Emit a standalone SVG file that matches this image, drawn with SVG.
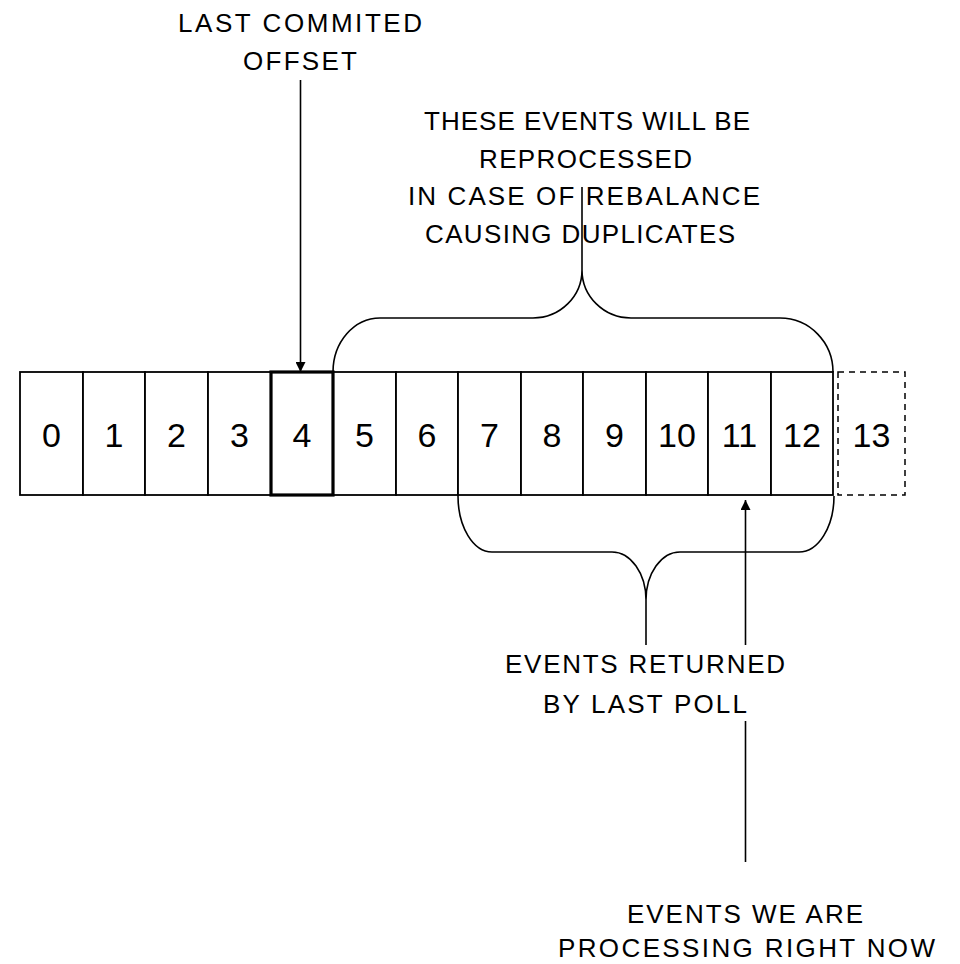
<svg xmlns="http://www.w3.org/2000/svg" width="960" height="964" viewBox="0 0 960 964">
  <defs>
    <style>
      .cell { fill: #ffffff; stroke: #000000; stroke-width: 1.8; }
      .thick { fill: #ffffff; stroke: #000000; stroke-width: 3.2; }
      .dash { fill: #ffffff; stroke: #000000; stroke-width: 1.5; stroke-dasharray: 6 5; }
      .num { font-family: "Liberation Sans", Arial, sans-serif; font-size: 34px; fill: #000; text-anchor: middle; }
      .lbl { font-family: "Liberation Sans", Arial, sans-serif; font-size: 26px; fill: #000; text-anchor: middle; }
      .ln { fill: none; stroke: #000; stroke-width: 1.6; }
    </style>
    <marker id="ah" viewBox="0 0 10 10" refX="10" refY="5" markerWidth="14" markerHeight="10" markerUnits="userSpaceOnUse" orient="auto">
      <path d="M0,0 L10,5 L0,10 Z" fill="#000"/>
    </marker>
  </defs>
  <rect width="960" height="964" fill="#ffffff"/>

  <g id="connectors">
    <path id="brace-top" class="ln" d="M333,372 A47,54 0 0 1 380,318 L533,318 A49,48 0 0 0 582,270 A49,48 0 0 0 631,318 L780,318 A53,54 0 0 1 833,372"/>
    <line class="ln" x1="582" y1="270" x2="582" y2="187"/>
    <path id="brace-bottom" class="ln" d="M458,496 A34,56 0 0 0 492,552 L612,552 A34,48 0 0 1 646,600 A34,48 0 0 1 680,552 L799,552 A35,56 0 0 0 834,496"/>
    <line class="ln" x1="646" y1="600" x2="646" y2="648"/>
    <line id="arrow-offset" class="ln" x1="300.5" y1="80" x2="300.5" y2="372" marker-end="url(#ah)"/>
    <line id="arrow-now" class="ln" x1="745.5" y1="862" x2="745.5" y2="500" marker-end="url(#ah)"/>
  </g>

  <g id="cell-0"><rect class="cell" x="20" y="372" width="63" height="123"/><text class="num" x="51.5" y="447">0</text></g>
  <g id="cell-1"><rect class="cell" x="83" y="372" width="62" height="123"/><text class="num" x="114" y="447">1</text></g>
  <g id="cell-2"><rect class="cell" x="145" y="372" width="63" height="123"/><text class="num" x="176.5" y="447">2</text></g>
  <g id="cell-3"><rect class="cell" x="208" y="372" width="63" height="123"/><text class="num" x="239.5" y="447">3</text></g>
  <g id="cell-5"><rect class="cell" x="333" y="372" width="63" height="123"/><text class="num" x="364.5" y="447">5</text></g>
  <g id="cell-6"><rect class="cell" x="396" y="372" width="62" height="123"/><text class="num" x="427" y="447">6</text></g>
  <g id="cell-7"><rect class="cell" x="458" y="372" width="63" height="123"/><text class="num" x="489.5" y="447">7</text></g>
  <g id="cell-8"><rect class="cell" x="521" y="372" width="62" height="123"/><text class="num" x="552" y="447">8</text></g>
  <g id="cell-9"><rect class="cell" x="583" y="372" width="63" height="123"/><text class="num" x="614.5" y="447">9</text></g>
  <g id="cell-10"><rect class="cell" x="646" y="372" width="62" height="123"/><text class="num" x="677" y="447">10</text></g>
  <g id="cell-11"><rect class="cell" x="708" y="372" width="63" height="123"/><text class="num" x="739.5" y="447">11</text></g>
  <g id="cell-12"><rect class="cell" x="771" y="372" width="62" height="123"/><text class="num" x="802" y="447">12</text></g>
  <g id="cell-4"><rect class="thick" x="271" y="372" width="62" height="123"/><text class="num" x="302" y="447">4</text></g>
  <g id="cell-13"><rect class="dash" x="838" y="372" width="67" height="123"/><text class="num" x="871.5" y="447">13</text></g>

  <g id="label-offset">
    <text class="lbl" x="300" y="32" textLength="244" lengthAdjust="spacing">LAST COMMITED</text>
    <text class="lbl" x="300" y="70" textLength="114" lengthAdjust="spacing">OFFSET</text>
  </g>
  <g id="label-reprocessed">
    <text class="lbl" x="587" y="130" textLength="326" lengthAdjust="spacing">THESE EVENTS WILL BE</text>
    <text class="lbl" x="585.5" y="167.5" textLength="213" lengthAdjust="spacing">REPROCESSED</text>
    <text class="lbl" x="584" y="205" textLength="352" lengthAdjust="spacing">IN CASE OF REBALANCE</text>
    <text class="lbl" x="580" y="242.5" textLength="310" lengthAdjust="spacing">CAUSING DUPLICATES</text>
  </g>
  <g id="label-poll">
    <rect x="500" y="645" width="292" height="76" fill="#ffffff"/>
    <text class="lbl" x="645" y="673" textLength="280" lengthAdjust="spacing">EVENTS RETURNED</text>
    <text class="lbl" x="645" y="713" textLength="204" lengthAdjust="spacing">BY LAST POLL</text>
  </g>
  <g id="label-now">
    <text class="lbl" x="745" y="923" textLength="236" lengthAdjust="spacing">EVENTS WE ARE</text>
    <text class="lbl" x="746.5" y="957" textLength="377" lengthAdjust="spacing">PROCESSING RIGHT NOW</text>
  </g>
</svg>
